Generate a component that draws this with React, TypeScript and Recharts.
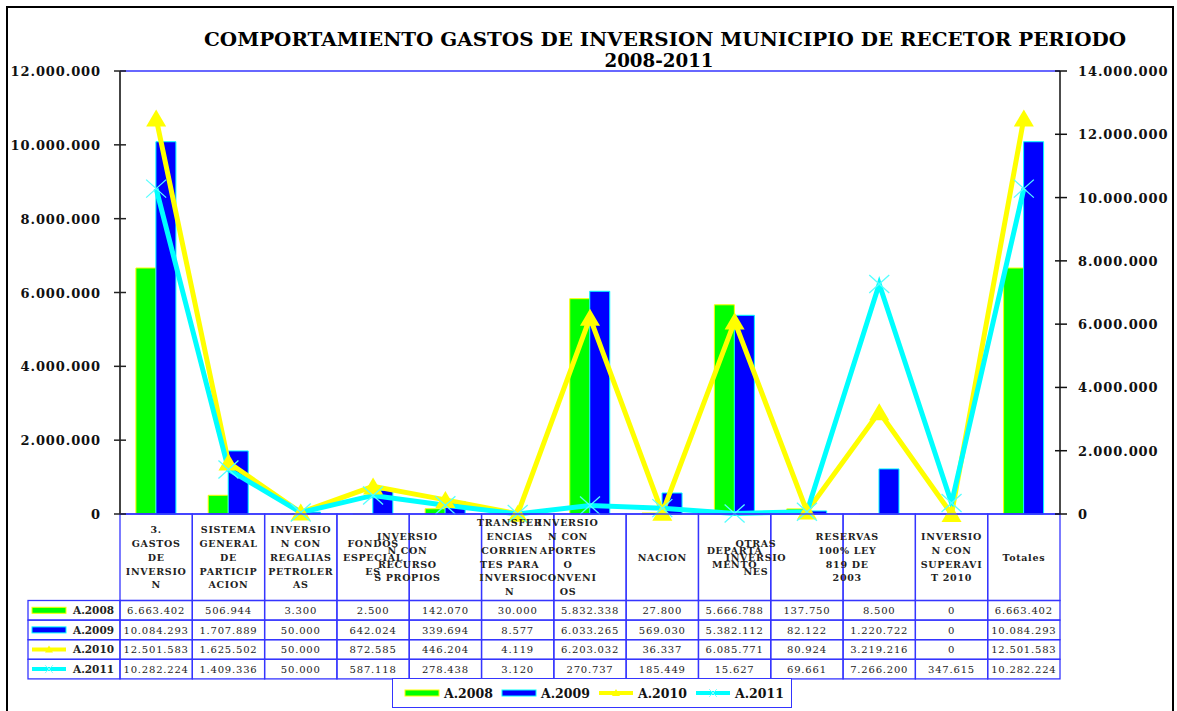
import React from 'react';
import { ComposedChart, Bar, Line, XAxis, YAxis, ReferenceLine } from 'recharts';

// ---------- DATA ----------
const categories = [
  '3.\nGASTOS\nDE\nINVERSIO\nN',
  'SISTEMA\nGENERAL\nDE\nPARTICIP\nACION',
  'INVERSIO\nN CON\nREGALIAS\nPETROLER\nAS',
  'FONDOS\nESPECIAL\nES',
  'INVERSIO\nN CON\nRECURSO\nS PROPIOS',
  'TRANSFER\nENCIAS\nCORRIEN\nTES PARA\nINVERSIO\nN',
  'INVERSIO\nN CON\nAPORTES\nO\nCONVENI\nOS',
  'NACION',
  'DEPARTA\nMENTO',
  'OTRAS\nINVERSIO\nNES',
  'RESERVAS\n100% LEY\n819 DE\n2003',
  'INVERSIO\nN CON\nSUPERAVI\nT 2010',
  'Totales',
];
const a2008 = [6663402, 506944, 3300, 2500, 142070, 30000, 5832338, 27800, 5666788, 137750, 8500, 0, 6663402];
const a2009 = [10084293, 1707889, 50000, 642024, 339694, 8577, 6033265, 569030, 5382112, 82122, 1220722, 0, 10084293];
const a2010 = [12501583, 1625502, 50000, 872585, 446204, 4119, 6203032, 36337, 6085771, 80924, 3219216, 0, 12501583];
const a2011 = [10282224, 1409336, 50000, 587118, 278438, 3120, 270737, 185449, 15627, 69661, 7266200, 347615, 10282224];
const seriesNames = ['A.2008', 'A.2009', 'A.2010', 'A.2011'];
const leftTicks = [0, 2000000, 4000000, 6000000, 8000000, 10000000, 12000000];
const rightTicks = [0, 2000000, 4000000, 6000000, 8000000, 10000000, 12000000, 14000000];
const titleLine1 = 'COMPORTAMIENTO GASTOS DE INVERSION MUNICIPIO DE RECETOR  PERIODO';
const titleLine2 = '2008-2011';

const seriesValues = [a2008, a2009, a2010, a2011];
const data = categories.map((c, i) => ({
  cat: c,
  a2008: a2008[i],
  a2009: a2009[i],
  a2010: a2010[i],
  a2011: a2011[i],
}));

// ---------- STYLE ----------
const BLUE = '#3535ff';
const FILL = ['#00ff00', '#0000ff', '#ffff00', '#00ffff'];
const OUTLINE = ['#ffff00', '#00ffff', '#ffff00', '#00ffff'];
const SERIF = '"DejaVu Serif", serif';
const HEADER_H = 86.5;
const ROW_H = 19.6;
const LABEL_SHIFT = [0, 0, 0, 0, -38, -8, -22, 0, 0, -51, -32, 0, 0];

const fmt = (n: number) => String(Math.round(n)).replace(/\B(?=(\d{3})+(?!\d))/g, '.');

const axisText: React.CSSProperties = {
  fontFamily: SERIF,
  fontWeight: 'bold',
  fontSize: 13,
  letterSpacing: 0.9,
};

function LeftTick(props: any) {
  const { x, y, payload } = props;
  return (
    <g>
      <line x1={x - 6} x2={x + 6} y1={y} y2={y} stroke="#222" strokeWidth={1.5} />
      <text x={x - 19} y={y + 5} textAnchor="end" fill="#111" style={axisText}>
        {fmt(payload.value)}
      </text>
    </g>
  );
}

function RightTick(props: any) {
  const { x, y, payload } = props;
  return (
    <g>
      <line x1={x - 5} x2={x + 7} y1={y} y2={y} stroke="#111" strokeWidth={1.5} />
      <text x={x + 18} y={y + 5} textAnchor="start" fill="#111" style={axisText}>
        {fmt(payload.value)}
      </text>
    </g>
  );
}

function Swatch({ s, cx, cy, w }: { s: number; cx: number; cy: number; w: number }) {
  if (s < 2) {
    return <rect x={cx - w / 2} y={cy - 3} width={w} height={6} fill={FILL[s]} stroke={OUTLINE[s]} strokeWidth={1} />;
  }
  return (
    <g>
      <line x1={cx - w / 2} x2={cx + w / 2} y1={cy} y2={cy} stroke={FILL[s]} strokeWidth={4} />
      {s === 2 ? (
        <polygon points={`${cx},${cy - 4} ${cx - 4},${cy + 3} ${cx + 4},${cy + 3}`} fill={FILL[s]} />
      ) : (
        <g stroke="#80ffff" strokeWidth={1}>
          <line x1={cx - 4} y1={cy - 4} x2={cx + 4} y2={cy + 4} />
          <line x1={cx - 4} y1={cy + 4} x2={cx + 4} y2={cy - 4} />
        </g>
      )}
    </g>
  );
}

function HeaderTick(props: any) {
  const { x, y, payload } = props;
  const i: number = payload?.index ?? props.index ?? 0;
  const half: number = payload?.offset && payload.offset > 5 ? payload.offset : 36.15;
  const lines = String(payload.value).split('\n');
  const lh = 13.8;
  const cy = y + HEADER_H / 2;
  const firstY = cy - ((lines.length - 1) * lh) / 2 + 3.5;
  const left = x - half;
  const w = half * 2;
  return (
    <g>
      <rect x={left} y={y} width={w} height={HEADER_H} fill="none" stroke={BLUE} strokeWidth={1.3} />
      <text
        textAnchor="middle"
        fill="#222"
        style={{ fontFamily: SERIF, fontWeight: 'bold', fontSize: 9.5, letterSpacing: 0.7 }}
      >
        {lines.map((ln, k) => (
          <tspan key={k} x={x + LABEL_SHIFT[i]} y={firstY + k * lh}>
            {ln}
          </tspan>
        ))}
      </text>
      {seriesValues.map((vals, r) => (
        <g key={r}>
          <rect x={left} y={y + HEADER_H + r * ROW_H} width={w} height={ROW_H} fill="none" stroke={BLUE} strokeWidth={1.3} />
          <text
            x={x}
            y={y + HEADER_H + r * ROW_H + 13.5}
            textAnchor="middle"
            fill="#222"
            style={{ fontFamily: SERIF, fontSize: 10, letterSpacing: 0.8 }}
          >
            {fmt(vals[i])}
          </text>
        </g>
      ))}
      {i === 0 &&
        seriesNames.map((nm, r) => (
          <g key={'lg' + r}>
            <rect x={left - 92} y={y + HEADER_H + r * ROW_H} width={92} height={ROW_H} fill="none" stroke={BLUE} strokeWidth={1.3} />
            <Swatch s={r} cx={left - 71} cy={y + HEADER_H + r * ROW_H + ROW_H / 2} w={34} />
            <text
              x={left - 47}
              y={y + HEADER_H + r * ROW_H + 13.5}
              fill="#222"
              style={{ fontFamily: SERIF, fontWeight: 'bold', fontSize: 10.5 }}
            >
              {nm}
            </text>
          </g>
        ))}
    </g>
  );
}

const TriangleDot = (props: any) => {
  const { cx, cy, index } = props;
  if (cx == null || cy == null) return <g key={'t' + index} />;
  return (
    <polygon
      key={'t' + index}
      points={`${cx},${cy - 9} ${cx - 10},${cy + 8} ${cx + 10},${cy + 8}`}
      fill="#ffff00"
    />
  );
};

const CrossDot = (props: any) => {
  const { cx, cy, index } = props;
  if (cx == null || cy == null) return <g key={'c' + index} />;
  return (
    <g key={'c' + index} stroke="#55ffff" strokeWidth={1.3}>
      <line x1={cx - 10} y1={cy - 9} x2={cx + 10} y2={cy + 9} />
      <line x1={cx - 10} y1={cy + 9} x2={cx + 10} y2={cy - 9} />
    </g>
  );
};

function BottomLegend() {
  return (
    <div
      style={{
        position: 'absolute',
        left: 392,
        top: 678,
        width: 400,
        height: 30,
        border: `1.5px solid ${BLUE}`,
        display: 'flex',
        alignItems: 'center',
        paddingLeft: 10,
        boxSizing: 'border-box',
        background: '#fff',
      }}
    >
      {seriesNames.map((nm, s) => (
        <div key={nm} style={{ display: 'flex', alignItems: 'center', width: 99 }}>
          <svg width={38} height={14} style={{ display: 'block' }}>
            <Swatch s={s} cx={19} cy={7} w={34} />
          </svg>
          <span
            style={{
              marginLeft: 3,
              fontFamily: SERIF,
              fontWeight: 'bold',
              fontSize: 12.5,
              color: '#111',
            }}
          >
            {nm}
          </span>
        </div>
      ))}
    </div>
  );
}

export default function App() {
  return (
    <div style={{ position: 'absolute', left: 0, top: 0, width: 1177, height: 711, background: '#fff', overflow: 'hidden' }}>
      {/* outer frame */}
      <div
        style={{
          position: 'absolute',
          left: 6,
          top: 6,
          width: 1168,
          height: 720,
          border: '2px solid #000',
          boxSizing: 'border-box',
        }}
      />
      <svg width={1177} height={80} style={{ position: 'absolute', left: 0, top: 0 }}>
        <text
          x={665}
          y={46}
          textAnchor="middle"
          textLength={922}
          lengthAdjust="spacingAndGlyphs"
          fill="#000"
          style={{ fontFamily: SERIF, fontWeight: 'bold', fontSize: 19 }}
        >
          {titleLine1}
        </text>
        <text
          x={659}
          y={67}
          textAnchor="middle"
          textLength={109}
          lengthAdjust="spacingAndGlyphs"
          fill="#000"
          style={{ fontFamily: SERIF, fontWeight: 'bold', fontSize: 18 }}
        >
          {titleLine2}
        </text>
      </svg>
      <div style={{ position: 'absolute', left: 0, top: 0 }}>
        <ComposedChart
          width={1177}
          height={711}
          data={data}
          margin={{ top: 71, right: 7, bottom: 111, left: 20 }}
          barGap={0}
          barCategoryGap="22%"
        >
          <XAxis
            dataKey="cat"
            height={86}
            interval={0}
            tickSize={0}
            tickMargin={0}
            tickLine={false}
            axisLine={{ stroke: BLUE, strokeWidth: 1.5 }}
            tick={(p: any) => <HeaderTick {...p} />}
          />
          <YAxis
            yAxisId="left"
            orientation="left"
            width={100}
            domain={[0, 12000000]}
            ticks={leftTicks}
            interval={0}
            tickSize={0}
            tickMargin={0}
            tickLine={false}
            axisLine={{ stroke: '#444', strokeWidth: 2 }}
            tick={(p: any) => <LeftTick {...p} />}
          />
          <YAxis
            yAxisId="right"
            orientation="right"
            width={110}
            domain={[0, 14000000]}
            ticks={rightTicks}
            interval={0}
            tickSize={0}
            tickMargin={0}
            tickLine={false}
            axisLine={{ stroke: '#111', strokeWidth: 1.5 }}
            tick={(p: any) => <RightTick {...p} />}
          />
          <ReferenceLine yAxisId="left" y={12000000} stroke={BLUE} strokeWidth={1.5} />
          <Bar yAxisId="left" dataKey="a2008" name="A.2008" fill={FILL[0]} stroke={OUTLINE[0]} strokeWidth={1} isAnimationActive={false} />
          <Bar yAxisId="left" dataKey="a2009" name="A.2009" fill={FILL[1]} stroke={OUTLINE[1]} strokeWidth={1} isAnimationActive={false} />
          <Line
            yAxisId="right"
            type="linear"
            dataKey="a2010"
            name="A.2010"
            stroke={FILL[2]}
            strokeWidth={5}
            dot={TriangleDot}
            activeDot={false}
            isAnimationActive={false}
          />
          <Line
            yAxisId="right"
            type="linear"
            dataKey="a2011"
            name="A.2011"
            stroke={FILL[3]}
            strokeWidth={5}
            dot={CrossDot}
            activeDot={false}
            isAnimationActive={false}
          />
        </ComposedChart>
      </div>
      <BottomLegend />
    </div>
  );
}
